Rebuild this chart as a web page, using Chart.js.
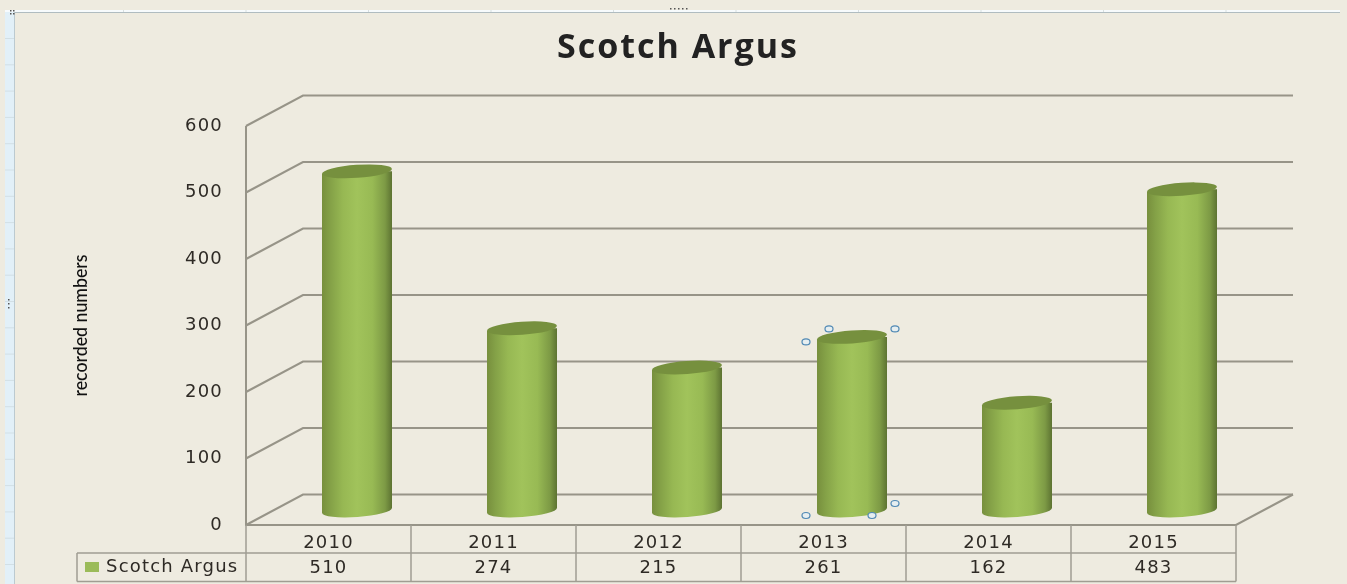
<!DOCTYPE html>
<html>
<head>
<meta charset="utf-8">
<style>html,body{margin:0;padding:0;background:#EEEBE0;overflow:hidden}canvas{display:block}</style>
<script src="https://cdn.jsdelivr.net/npm/chart.js@4"></script>
</head>
<body>
<canvas id="c" width="1347" height="584"></canvas>
<script>
const categories = ['2010','2011','2012','2013','2014','2015'];
const seriesName = 'Scotch Argus';
const seriesValues = [510,274,215,261,162,483];
const chartTitle = 'Scotch Argus';
const yTitle = 'recorded numbers';
const selectedIndex = 3;

const DEPTH_X = 57, DEPTH_Y = -30.5, BAR_DX = 28.5, BAR_DY = -14.5;
const BAR_FRACTION = 70/165, RX = 35, RY = 6.5, TILT = -0.07;
const GRID = '#979488', TEXT = '#2e2a25', LINE = '#a09d92';
const SPACED = '1.2px';
const Y_TITLE_LENGTH = 142, TITLE_SHIFT = 60;

const origLabels = Chart.Scale.prototype.drawLabels;
Chart.Scale.prototype.drawLabels = function(area){
  const ctx = this.ctx; ctx.save(); ctx.letterSpacing = SPACED;
  origLabels.call(this, area); ctx.restore();
};
const origTitle = Chart.Scale.prototype.drawTitle;
Chart.Scale.prototype.drawTitle = function(){
  const ctx = this.ctx, o = this.options.title;
  if(!o || !o.display){ return origTitle.call(this); }
  ctx.save();
  ctx.font = Chart.helpers.toFont(o.font).string;
  const k = Y_TITLE_LENGTH/ctx.measureText(o.text).width;
  const mid = (this.top+this.bottom)/2;
  ctx.translate(0,mid); ctx.scale(1,k); ctx.translate(0,-mid);
  origTitle.call(this);
  ctx.restore();
};

function barGradient(ctx, cx){
  const g = ctx.createLinearGradient(cx-RX,0,cx+RX,0);
  g.addColorStop(0,'#778f3d');
  g.addColorStop(0.12,'#84a147');
  g.addColorStop(0.3,'#97b853');
  g.addColorStop(0.5,'#a1c35b');
  g.addColorStop(0.72,'#98ba54');
  g.addColorStop(0.9,'#7d9a45');
  g.addColorStop(1,'#5d7332');
  return g;
}

const frame = {
  id:'frame',
  beforeDraw(chart){
    const c = chart.ctx;
    c.save();
    c.fillStyle='#EEEBE0'; c.fillRect(0,0,chart.width,chart.height);
    c.fillStyle='#e2f0f8'; c.fillRect(5,10,10,574);
    c.fillStyle='#f7fbfd'; c.fillRect(5,10,1335,2);
    c.fillStyle='#b0bcc0'; c.fillRect(14,12,1326,1);
    c.fillStyle='#bccad0'; c.fillRect(14,12,1,572);
    c.fillStyle='#d2dfe5';
    for(let y=38;y<584;y+=26.3) c.fillRect(5,y,9,1);
    c.fillStyle='#d8dfe0';
    for(let x=123;x<1340;x+=122.5) c.fillRect(x,10,1,2);
    c.fillStyle='#555';
    [[10,10],[13,10],[10,13],[13,13],[8,299],[8,303],[8,307],[670,8],[674,8],[678,8],[682,8],[686,8]].forEach(p=>c.fillRect(p[0],p[1],1.5,1.5));
    c.restore();
  },
  afterLayout(chart){
    const t = chart.titleBlock;
    if(t){
      t.left += TITLE_SHIFT; t.right += TITLE_SHIFT;
      if(!t._spacedDraw){
        const d = t.draw;
        t.draw = function(){
          const ctx = this.ctx; ctx.save(); ctx.letterSpacing='2px';
          d.call(this); ctx.restore();
        };
        t._spacedDraw = true;
      }
    }
  }
};

const walls = {
  id:'walls',
  beforeDatasetsDraw(chart){
    const c = chart.ctx, y = chart.scales.y, a = chart.chartArea;
    c.save();
    c.strokeStyle = GRID; c.lineWidth = 2; c.lineJoin='miter';
    y.ticks.forEach(t=>{
      const py = y.getPixelForValue(t.value);
      c.beginPath();
      c.moveTo(a.left,py);
      c.lineTo(a.left+DEPTH_X,py+DEPTH_Y);
      c.lineTo(a.right+DEPTH_X,py+DEPTH_Y);
      c.stroke();
    });
    c.beginPath();
    c.moveTo(a.left,a.top); c.lineTo(a.left,a.bottom); c.lineTo(a.right,a.bottom);
    c.lineTo(a.right+DEPTH_X,a.bottom+DEPTH_Y);
    c.stroke();
    c.restore();
  },
  beforeDatasetDraw(chart,args){
    const c = chart.ctx, meta = chart.getDatasetMeta(args.index);
    c.save();
    c.translate(BAR_DX,BAR_DY);
    c.save();
    c.beginPath();
    const s = Math.sin(TILT)*RX;
    meta.data.forEach(b=>{
      c.moveTo(b.x-RX,b.y-s); c.lineTo(b.x+RX,b.y+s);
      c.lineTo(b.x+RX,b.base+s); c.lineTo(b.x-RX,b.base-s); c.closePath();
    });
    c.clip();
  },
  afterDatasetDraw(chart,args){
    const c = chart.ctx, meta = chart.getDatasetMeta(args.index);
    const s = Math.sin(TILT)*RX;
    c.restore();
    meta.data.forEach(b=>{
      c.fillStyle = barGradient(c,b.x);
      c.beginPath();
      c.moveTo(b.x-RX,b.base-8); c.lineTo(b.x+RX,b.base-8);
      c.lineTo(b.x+RX,b.base+s); c.lineTo(b.x-RX,b.base-s); c.closePath(); c.fill();
      c.beginPath(); c.ellipse(b.x,b.base,RX,RY,TILT,0,Math.PI*2); c.fill();
      c.fillStyle = '#76903e';
      c.beginPath(); c.ellipse(b.x,b.y,RX,RY,TILT,0,Math.PI*2); c.fill();
    });
    c.restore();
  },
  afterDatasetsDraw(chart){
    const c = chart.ctx, b = chart.getDatasetMeta(0).data[selectedIndex];
    const cx = b.x+BAR_DX, top = b.y+BAR_DY, base = b.base+BAR_DY;
    const handles = [[cx-46,top+5],[cx-23,top-8],[cx+43,top-8],[cx+43,base-7],[cx+20,base+5],[cx-46,base+5]];
    c.save();
    handles.forEach(h=>{
      c.beginPath(); c.ellipse(h[0],h[1],4,3,0,0,Math.PI*2);
      c.fillStyle='#e6eef0'; c.fill();
      c.strokeStyle='#4f88b4'; c.lineWidth=1.2; c.stroke();
    });
    c.restore();
  }
};

const dataTable = {
  id:'dataTable',
  afterDraw(chart){
    const c = chart.ctx, a = chart.chartArea, x = chart.scales.x;
    const row1 = 553, row2 = 581.5, left = 77, n = categories.length, w = (a.right-a.left)/n;
    c.save();
    c.strokeStyle = LINE; c.lineWidth = 1.5;
    c.beginPath();
    for(let i=0;i<=n;i++){ c.moveTo(a.left+i*w,a.bottom); c.lineTo(a.left+i*w,row2); }
    c.moveTo(left,row1); c.lineTo(a.right,row1);
    c.moveTo(left,row2); c.lineTo(a.right,row2);
    c.moveTo(left,row1); c.lineTo(left,row2);
    c.stroke();
    c.fillStyle='#9bbb59'; c.fillRect(85,562,14,10);
    c.fillStyle=TEXT; c.font='18px "DejaVu Sans"'; c.letterSpacing=SPACED;
    c.textBaseline='middle'; c.textAlign='left';
    c.fillText(seriesName,106,567.5);
    c.textAlign='center';
    seriesValues.forEach((v,i)=>c.fillText(String(v),x.getPixelForValue(i),568));
    c.restore();
  }
};

new Chart(document.getElementById('c'),{
  type:'bar',
  data:{labels:categories,datasets:[{
    label:seriesName,
    data:seriesValues,
    clip:false,
    barPercentage:1,
    categoryPercentage:BAR_FRACTION,
    borderWidth:0,
    backgroundColor(ctx){
      const s = ctx.chart.scales.x;
      const cx = s && ctx.dataIndex!==undefined ? s.getPixelForValue(ctx.dataIndex) : NaN;
      return Number.isFinite(cx) ? barGradient(ctx.chart.ctx,cx) : '#9bbb59';
    }
  }]},
  options:{
    responsive:false,
    animation:false,
    layout:{padding:{left:0,right:111,top:0,bottom:0}},
    plugins:{
      legend:{display:false},
      tooltip:{enabled:false},
      title:{
        display:true,text:chartTitle,color:'#222',
        font:{family:'"Open Sans"',size:34,weight:'700'},
        padding:{top:28,bottom:57.2}
      }
    },
    scales:{
      x:{
        grid:{display:false},border:{display:false},
        ticks:{color:TEXT,font:{family:'"DejaVu Sans"',size:18},padding:0,maxRotation:0},
        afterFit(s){s.height=59;}
      },
      y:{
        min:0,max:600,
        grid:{display:false},border:{display:false},
        ticks:{stepSize:100,color:TEXT,font:{family:'"DejaVu Sans"',size:18},padding:15},
        title:{display:true,text:yTitle,color:'#111',
          font:{family:'Lato',size:19,weight:'500'},padding:{top:69,bottom:0}},
        afterFit(s){s.width=246;}
      }
    }
  },
  plugins:[frame,walls,dataTable]
});
</script>
</body>
</html>
